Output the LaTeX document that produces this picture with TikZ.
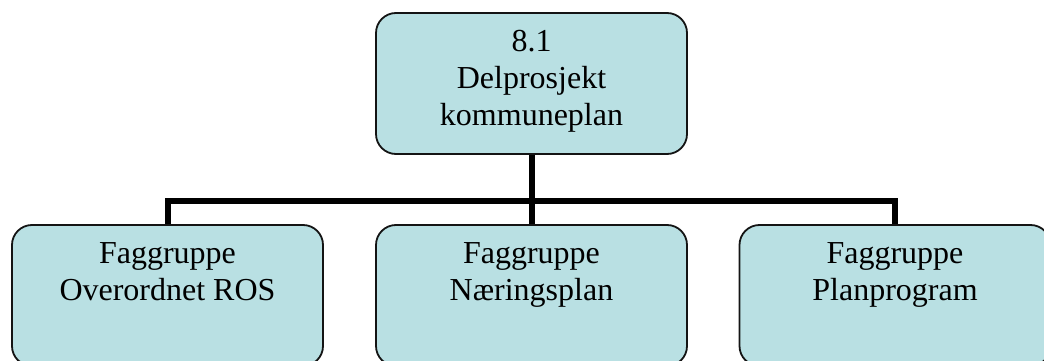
\documentclass[tikz,border=0pt]{standalone}
\usepackage{fontspec}
\setmainfont{Liberation Serif}
\definecolor{boxfill}{RGB}{185,224,227}
\definecolor{boxline}{RGB}{20,20,20}
\begin{document}
\begin{tikzpicture}[x=1pt,y=-1pt,
  box/.style={draw=boxline,line width=1.8pt,fill=boxfill,rounded corners=20pt,
    minimum width=311pt,minimum height=141pt,inner sep=0pt,anchor=center},
  lbl/.style={anchor=north,inner sep=0pt,align=center,
    font=\fontsize{32}{37}\selectfont},
  conn/.style={draw=black,line width=6pt,line join=miter}]
\clip (0,0) rectangle (1044,361);
\useasboundingbox (0,0) rectangle (1044,361);
\fill[white] (0,0) rectangle (1044,361);
% boxes
\node[box] (top) at (531.5,83.5) {};
\node[box] (left) at (167.5,295.5) {};
\node[box] (mid) at (531.5,295.5) {};
\node[box] (right) at (895,295.5) {};
% connectors
\coordinate (hub) at (531.5,201);
\draw[conn] (top.south) -- (hub);
\draw[conn] (left.north) |- (hub) -| (right.north);
\draw[conn] (hub) -- (mid.north);
% labels
\node[lbl] (ttop) at ([yshift=-13pt]top.north) {\rule{0pt}{26pt}8.1\\Delprosjekt\\kommuneplan};
\node[lbl] (tleft) at ([yshift=-13pt]left.north) {\rule{0pt}{26pt}Faggruppe\\Overordnet ROS};
\node[lbl] (tmid) at ([yshift=-13pt]mid.north) {\rule{0pt}{26pt}Faggruppe\\Næringsplan};
\node[lbl] (tright) at ([yshift=-13pt]right.north) {\rule{0pt}{26pt}Faggruppe\\Planprogram};
\end{tikzpicture}
\end{document}
